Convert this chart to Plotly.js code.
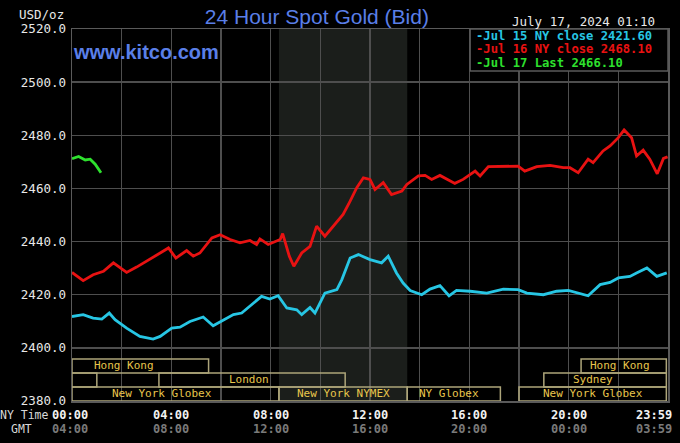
<!DOCTYPE html>
<html>
<head>
<meta charset="utf-8">
<script src="https://cdn.plot.ly/plotly-3.0.1.min.js"></script>
<style>html,body{margin:0;padding:0;background:#000;}#chart{width:680px;height:443px;}</style>
</head>
<body>
<div id="chart"></div>
<script>
// ---- data (x = minutes after 00:00 NY time) ----
const jul15Minutes = [0,27,51,72,90,104,132,164,196,213,241,261,285,317,341,366,390,410,434,458,478,498,519,543,555,575,587,611,640,652,672,692,720,748,764,784,800,817,845,865,889,911,929,962,1002,1042,1078,1099,1139,1171,1199,1227,1247,1276,1300,1320,1348,1364,1389,1413,1437];
const jul15Values  = [2411.8,2412.5,2411.2,2410.8,2413.1,2410.6,2407.4,2404.3,2403.3,2404.3,2407.4,2407.8,2409.9,2411.6,2408.3,2410.6,2412.5,2413.1,2416.2,2419.4,2418.4,2419.6,2415.0,2414.3,2412.5,2415.2,2413.1,2420.6,2421.9,2425.7,2433.8,2435.1,2433.2,2432.0,2434.5,2428.2,2424.4,2421.6,2420.0,2422.1,2423.4,2419.6,2421.6,2421.3,2420.6,2422.1,2421.9,2420.6,2420.0,2421.3,2421.6,2420.6,2419.6,2423.8,2424.6,2426.3,2426.9,2428.2,2430.1,2426.9,2428.2];

const jul16Minutes = [0,27,51,76,100,116,132,156,188,213,233,251,277,293,309,338,358,382,406,430,446,454,474,503,509,525,536,555,575,591,611,640,655,672,688,704,720,732,752,772,797,809,837,853,869,889,925,945,974,986,1006,1078,1094,1123,1155,1187,1203,1223,1247,1259,1283,1300,1320,1334,1352,1364,1380,1396,1414,1429,1439];
const jul16Values  = [2428.4,2425.3,2427.5,2428.8,2432.0,2430.1,2428.4,2430.4,2433.2,2435.7,2437.6,2433.8,2436.6,2434.5,2435.7,2441.4,2442.6,2440.8,2439.5,2440.4,2438.9,2441.0,2438.9,2440.8,2443.0,2434.5,2430.7,2435.7,2438.2,2445.8,2442.0,2447.7,2450.2,2455.2,2460.3,2464.0,2463.4,2459.6,2462.2,2457.7,2459.0,2461.5,2464.7,2464.9,2463.4,2464.9,2461.9,2463.4,2466.5,2464.7,2468.2,2468.4,2466.5,2468.2,2468.7,2467.8,2467.8,2465.9,2471.0,2469.7,2474.1,2476.0,2479.1,2482.0,2479.1,2472.2,2474.4,2471.0,2465.5,2471.3,2471.9];

const jul17Minutes = [0,16,32,44,56,70];
const jul17Values  = [2471.2,2472.0,2470.7,2471.0,2469.1,2465.9];

const seriesNames  = ['Jul 15 NY close','Jul 16 NY close','Jul 17 Last'];
const seriesLast   = [2421.60, 2468.10, 2466.10];
const seriesColors = ['#27c6e4','#e81212','#2ee02e'];

const nyTickMinutes = [0,240,480,720,960,1200,1439];
const nyTickLabels  = ['00:00','04:00','08:00','12:00','16:00','20:00','23:59'];
const gmtTickLabels = ['04:00','08:00','12:00','16:00','20:00','00:00','03:59'];

// market sessions: row 0 = top, row 2 = bottom
const sessionNames  = ['Hong Kong','','London','New York Globex','New York NYMEX','NY Globex','New York Globex','Sydney','Hong Kong'];
const sessionRows   = [0,1,1,2,2,2,2,1,0];
const sessionStart  = [0,0,210,0,500,810,1080,1140,1230];
const sessionEnd    = [330,60,660,500,810,1035,1436,1436,1436];
const sessionLabelAt= [126,null,428,217,655,912,1258,1258,1324];

const pitStart = 500, pitEnd = 810;   // shaded NYMEX hours
const stamp = 'July 17, 2024 01:10';

// ---- drawing ----
const mono = 'DejaVu Sans Mono, monospace';
const yMin = 2380, yMax = 2520;
const rowEdges = [2395.85, 2390.57, 2385.29, 2380.0];

const traces = [
  {x: jul15Minutes, y: jul15Values, color: seriesColors[0]},
  {x: jul16Minutes, y: jul16Values, color: seriesColors[1]},
  {x: jul17Minutes, y: jul17Values, color: seriesColors[2]}
].map(s => ({x: s.x, y: s.y, type: 'scatter', mode: 'lines',
  line: {color: s.color, width: 2.8}, hoverinfo: 'skip', showlegend: false}));

const shapes = [];
shapes.push({type:'rect', xref:'x', yref:'paper', x0: pitStart, x1: pitEnd, y0: 0, y1: 1,
  fillcolor:'#1b1e1b', line:{width:0}, layer:'below'});

const annotations = [];
for (let i = 0; i < sessionNames.length; i++) {
  const r = sessionRows[i];
  shapes.push({type:'rect', xref:'x', yref:'y', x0: sessionStart[i], x1: sessionEnd[i],
    y0: rowEdges[r+1], y1: rowEdges[r], line:{color:'#ada57a', width:1.5}, fillcolor:'rgba(0,0,0,0)', layer:'above'});
  if (sessionNames[i]) {
    annotations.push({xref:'x', yref:'y', x: sessionLabelAt[i], y: (rowEdges[r]+rowEdges[r+1])/2,
      text: sessionNames[i], showarrow:false, font:{family: mono, size: 11, color:'#e8c64c'}, yshift: 0});
  }
}

// legend box
shapes.push({type:'rect', xref:'paper', yref:'paper', x0: 0.668, x1: 1, y0: 0.887, y1: 1,
  fillcolor:'#000', line:{color:'#5a5a5a', width:1.5}, layer:'above'});
const legendY = [0.981, 0.945, 0.909];
for (let i = 0; i < 3; i++) {
  annotations.push({xref:'paper', yref:'paper', x: 0.6745, y: legendY[i], xanchor:'left', yanchor:'middle',
    text: '-' + seriesNames[i] + ' ' + seriesLast[i].toFixed(2), showarrow:false, height: 12, valign:'middle',
    font:{family: mono, size: 12.2, color: seriesColors[i], weight: 'bold'}});
}

// x tick labels (NY time and GMT)
for (let i = 0; i < nyTickMinutes.length; i++) {
  const last = i === nyTickMinutes.length - 1;
  const first = i === 0;
  annotations.push({xref:'x', yref:'paper', x: nyTickMinutes[i], y: -0.0376, yanchor:'middle',
    xanchor: last ? 'right' : 'center', xshift: last ? 6 : (first ? -2 : 0),
    text: nyTickLabels[i], showarrow:false, font:{family: mono, size: 12, color:'#f2f2f2', weight:'bold'}});
  annotations.push({xref:'x', yref:'paper', x: nyTickMinutes[i], y: -0.0753, yanchor:'middle',
    xanchor: last ? 'right' : 'center', xshift: last ? 6 : (first ? -2 : 0),
    text: gmtTickLabels[i], showarrow:false, font:{family: mono, size: 12, color:'#7a7a7a', weight:'bold'}});
}
annotations.push({xref:'paper', yref:'paper', x: 0, xshift: -21, y: -0.0376, xanchor:'right', yanchor:'middle',
  text:'NY Time', showarrow:false, font:{family: mono, size: 11.5, color:'#d8d8d8'}});
annotations.push({xref:'paper', yref:'paper', x: 0, xshift: -51, y: -0.0753, xanchor:'center', yanchor:'middle',
  text:'GMT', showarrow:false, font:{family: mono, size: 11.5, color:'#d8d8d8'}});

// header texts
annotations.push({xref:'paper', yref:'paper', x: 0, xshift: -6, y: 1.0403, xanchor:'right', yanchor:'middle',
  text:'USD/oz', showarrow:false, font:{family: mono, size: 12.5, color:'#e8e8e8'}});
annotations.push({xref:'paper', yref:'paper', x: 0.9815, y: 1.0215, xanchor:'right', yanchor:'middle',
  text: stamp, showarrow:false, font:{family: mono, size: 12.5, color:'#e8e8e8'}});
annotations.push({xref:'paper', yref:'paper', x: 0, xshift: -1, y: 0.938, xanchor:'left', yanchor:'middle',
  text:'www.kitco.com', showarrow:false, font:{family:'Liberation Sans, Arial, sans-serif', size: 20, color:'#5a7fe8', weight:'bold'}});

const layout = {
  width: 680, height: 443,
  margin: {l: 72, r: 12, t: 29, b: 42, pad: 0},
  paper_bgcolor: '#000', plot_bgcolor: '#000',
  title: {text: '24 Hour Spot Gold (Bid)', x: 0.466, xanchor:'center', y: 0.962, yanchor:'middle',
    font: {family:'Liberation Sans, Arial, sans-serif', size: 21, color:'#5a7fe8'}},
  xaxis: {range: [0, 1440], dtick: 120, tick0: 0, showgrid: true, gridcolor:'#4e4e4e', gridwidth: 1.3,
    showticklabels: false, zeroline: false, showline: true, linecolor:'#5a5a5a', linewidth: 1.5, mirror: true,
    ticks: '', fixedrange: true},
  yaxis: {range: [yMin, yMax], dtick: 20, tick0: 2380, tickformat: '.1f', showgrid: true, gridcolor:'#4e4e4e', gridwidth: 1.3,
    zeroline: false, showline: true, linecolor:'#5a5a5a', linewidth: 1.5, mirror: true, ticks: '',
    tickfont: {family: mono, size: 12.5, color:'#e8e8e8'}, ticklabelstandoff: 2, fixedrange: true},
  shapes: shapes,
  annotations: annotations,
  showlegend: false
};

Plotly.newPlot('chart', traces, layout, {displayModeBar: false, staticPlot: true});
</script>
</body>
</html>
